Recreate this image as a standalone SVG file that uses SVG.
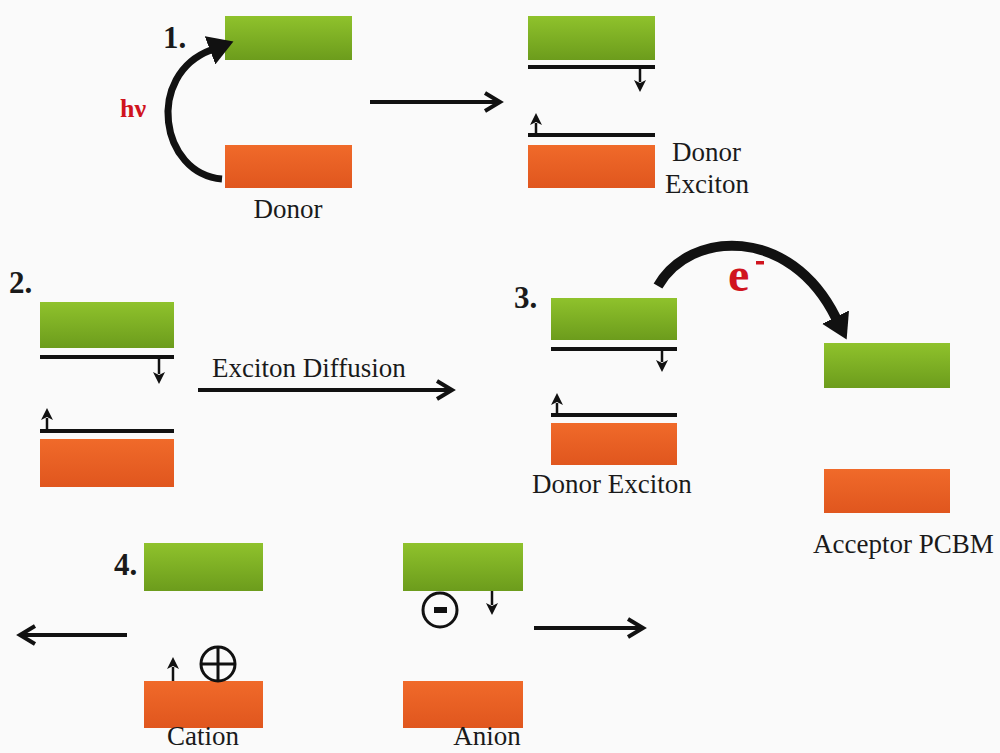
<svg xmlns="http://www.w3.org/2000/svg" width="1000" height="753" viewBox="0 0 1000 753">
<style>
.lbl{font-family:"Liberation Serif","Times New Roman",serif;font-size:27px;fill:#1a1a1a}
.num{font-family:"Liberation Serif","Times New Roman",serif;font-size:31px;font-weight:bold;fill:#1a1a1a}
.red{font-family:"Liberation Serif","Times New Roman",serif;font-weight:bold;fill:#d0141e}
.g{fill:url(#gg)}
.o{fill:url(#og)}
.lvl{stroke:#111;stroke-width:4}
.sm{stroke:#111;stroke-width:2.5;fill:none;marker-end:url(#tri)}
.big{stroke:#111;stroke-width:4;fill:none;marker-end:url(#chev)}
.curve{fill:none;stroke:#111;marker-end:url(#head)}
.circ{fill:none;stroke:#111;stroke-width:3}
</style>
<defs>
<linearGradient id="gg" x1="0" y1="0" x2="0" y2="1">
<stop offset="0" stop-color="#8fc22c"/><stop offset="1" stop-color="#6c9c1c"/>
</linearGradient>
<linearGradient id="og" x1="0" y1="0" x2="0" y2="1">
<stop offset="0" stop-color="#f06a2a"/><stop offset="1" stop-color="#e0561e"/>
</linearGradient>
<marker id="chev" markerUnits="userSpaceOnUse" viewBox="0 0 24 24" markerWidth="24" markerHeight="24" refX="20" refY="12" orient="auto">
<path d="M5,3 L20,12 L5,21" fill="none" stroke="#111" stroke-width="4"/>
</marker>
<marker id="tri" markerUnits="userSpaceOnUse" viewBox="0 0 13 13" markerWidth="13" markerHeight="13" refX="2" refY="6.5" orient="auto">
<path d="M0,0.5 L12,6.5 L0,12.5 L3,6.5 z" fill="#111"/>
</marker>
<marker id="head" markerUnits="userSpaceOnUse" viewBox="0 0 26 30" markerWidth="26" markerHeight="30" refX="1" refY="15" orient="auto">
<path d="M0,0 L25,15 L0,30 z" fill="#111"/>
</marker>
</defs>
<rect width="1000" height="753" fill="#fafafa"/>

<g id="step1-donor">
<rect class="g" x="225" y="16" width="127" height="44"/>
<rect class="o" x="225" y="145" width="127" height="43"/>
<text class="num" x="163" y="48">1.</text>
<text class="red" x="120" y="117" font-size="26">hν</text>
<text class="lbl" x="288" y="218" text-anchor="middle">Donor</text>
</g>

<g id="step1-exciton">
<rect class="g" x="528" y="16" width="127" height="44"/>
<line class="lvl" x1="528" y1="67" x2="655" y2="67"/>
<rect class="o" x="528" y="145" width="127" height="43"/>
<line class="lvl" x1="528" y1="135" x2="655" y2="135"/>
<text class="lbl" x="672" y="161">Donor</text>
<text class="lbl" x="665" y="193">Exciton</text>
</g>

<g id="step2">
<text class="num" x="9" y="293">2.</text>
<rect class="g" x="40" y="302" width="134" height="46"/>
<line class="lvl" x1="40" y1="357" x2="174" y2="357"/>
<line class="lvl" x1="40" y1="431" x2="174" y2="431"/>
<rect class="o" x="40" y="439" width="134" height="48"/>
<text class="lbl" x="212" y="377">Exciton Diffusion</text>
</g>

<g id="step3-donor">
<text class="num" x="514" y="308">3.</text>
<rect class="g" x="551" y="298" width="126" height="42"/>
<line class="lvl" x1="551" y1="349" x2="677" y2="349"/>
<line class="lvl" x1="551" y1="415" x2="677" y2="415"/>
<rect class="o" x="551" y="423" width="126" height="42"/>
<text class="lbl" x="532" y="493">Donor Exciton</text>
</g>

<g id="step3-acceptor">
<rect class="g" x="824" y="343" width="126" height="45"/>
<rect class="o" x="824" y="469" width="126" height="44"/>
<text class="red" x="728" y="291" font-size="48">e</text>
<rect x="756" y="261" width="8" height="3.5" fill="#d0141e"/>
<text class="lbl" x="813" y="553">Acceptor PCBM</text>
</g>

<g id="step4-cation">
<text class="num" x="114" y="575">4.</text>
<rect class="g" x="144" y="543" width="119" height="48"/>
<rect class="o" x="144" y="681" width="119" height="47"/>
<circle class="circ" cx="218" cy="664" r="17"/>
<line x1="218" y1="648" x2="218" y2="680" stroke="#111" stroke-width="3"/>
<line x1="202" y1="664" x2="234" y2="664" stroke="#111" stroke-width="3"/>
<text class="lbl" x="203" y="745" font-size="26" text-anchor="middle">Cation</text>
</g>

<g id="step4-anion">
<rect class="g" x="403" y="543" width="120" height="48"/>
<rect class="o" x="403" y="681" width="120" height="47"/>
<circle class="circ" cx="440" cy="610" r="17"/>
<rect x="434" y="607" width="13" height="6" fill="#111"/>
<text class="lbl" x="487" y="745" font-size="26" text-anchor="middle">Anion</text>
</g>

<g id="connectors">
<path class="curve" stroke-width="7" d="M222,179 C160,174 145,75 211,50"/>
<line class="big" x1="370" y1="102" x2="500" y2="102"/>
<line class="sm" x1="640" y1="69" x2="640" y2="82"/>
<line class="sm" x1="536" y1="133" x2="536" y2="123"/>
<line class="sm" x1="159" y1="359" x2="159" y2="374"/>
<line class="sm" x1="47" y1="429" x2="47" y2="418"/>
<line class="big" x1="198" y1="390" x2="452" y2="390"/>
<line class="sm" x1="662" y1="351" x2="662" y2="362"/>
<line class="sm" x1="557" y1="413" x2="557" y2="403"/>
<path class="curve" stroke-width="10" d="M658,286 C690,230 790,225 836,318"/>
<line class="big" x1="127" y1="635" x2="20" y2="635"/>
<line class="sm" x1="173" y1="681" x2="173" y2="667"/>
<line class="sm" x1="492" y1="591" x2="492" y2="605"/>
<line class="big" x1="534" y1="628" x2="643" y2="628"/>
</g>
</svg>
